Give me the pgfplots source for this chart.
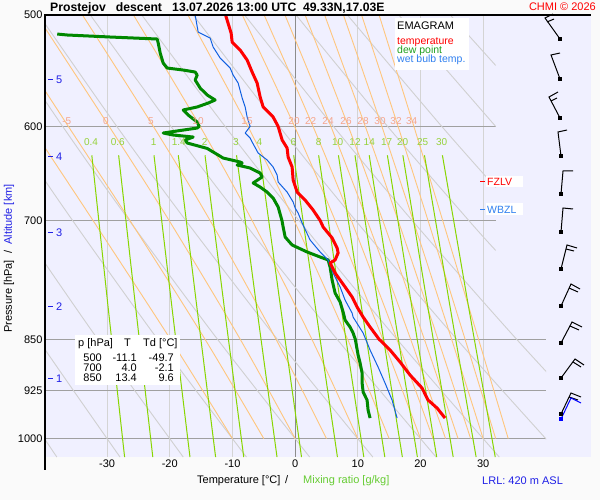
\documentclass[border=0pt]{standalone}
\usepackage{fontspec}
\setmainfont{Liberation Sans}
\usepackage{pgfplots}
\pgfplotsset{compat=1.18}
\definecolor{bgc}{RGB}{250,250,250}
\definecolor{lav}{RGB}{240,240,255}
\definecolor{isoT}{RGB}{212,212,212}
\definecolor{dryc}{RGB}{208,208,208}
\definecolor{isoP}{RGB}{160,160,160}
\definecolor{zeroT}{RGB}{140,140,140}
\definecolor{moistc}{RGB}{255,198,125}
\definecolor{moistlab}{RGB}{245,165,140}
\definecolor{mixc}{RGB}{136,214,0}
\definecolor{mixlab}{RGB}{150,210,60}
\definecolor{tred}{RGB}{255,0,0}
\definecolor{tdgreen}{RGB}{0,136,0}
\definecolor{wbblue}{RGB}{16,96,224}
\definecolor{wbtext}{RGB}{48,128,240}
\definecolor{dewtext}{RGB}{32,160,32}
\definecolor{altblue}{RGB}{32,32,230}
\definecolor{axgreen}{RGB}{102,204,51}
\newcommand{\fsz}[1]{\fontsize{#1}{#1}\selectfont}
\begin{document}
\begin{tikzpicture}[x=1pt,y=1pt]
\useasboundingbox (0,0) rectangle (600,500);
\fill[bgc] (0,0) rectangle (600,500);
\fill[lav] (46,43) rectangle (591,485);
\begin{axis}[
  at={(46pt,43pt)}, anchor=south west,
  width=500pt, height=442pt, scale only axis,
  xmin=-39.75, xmax=40.03,
  ymode=log, ymin=500, ymax=1030.7, y dir=reverse,
  axis line style={draw=none}, tick style={draw=none},
  major tick length=0pt, minor tick length=0pt,
  xtick={-30,-20,-10,0,10,20,30},
  xticklabels={-30,-20,-10,0,10,20,30},
  ytick={500,600,700,850,925,1000},
  yticklabels={500,600,700,850,925,1000},
  tick label style={font=\fsz{11}},
  xticklabel style={yshift=1pt},
  clip=true,
]
% isotherms
\addplot[isoT, line width=1pt] coordinates {(-30,500)(-30,1030.7)};
\addplot[isoT, line width=1pt] coordinates {(-20,500)(-20,1030.7)};
\addplot[isoT, line width=1pt] coordinates {(-10,500)(-10,1030.7)};
\addplot[isoT, line width=1pt] coordinates {(10,500)(10,1030.7)};
\addplot[isoT, line width=1pt] coordinates {(20,500)(20,1030.7)};
\addplot[isoT, line width=1pt] coordinates {(30,500)(30,1030.7)};
\addplot[zeroT, line width=1pt] coordinates {(0,500)(0,1030.7)};
% isobars
\addplot[isoP, line width=1pt] coordinates {(-39.75,600)(32,600)};
\addplot[isoP, line width=1pt] coordinates {(-39.75,700)(32,700)};
\addplot[isoP, line width=1pt] coordinates {(-39.75,850)(40.03,850)};
\addplot[isoP, line width=1pt] coordinates {(-39.75,925)(40.03,925)};
\addplot[isoP, line width=1pt] coordinates {(-39.75,1000)(40.03,1000)};
% dry adiabats
\addplot[dryc, line width=0.9pt, smooth] coordinates {(-81.9,500)(-71.66,600)(-62.59,700)(-50.58,850)(-38.02,1030.7)};
\addplot[dryc, line width=0.9pt, smooth] coordinates {(-73.69,500)(-63.02,600)(-53.56,700)(-41.03,850)(-27.94,1030.7)};
\addplot[dryc, line width=0.9pt, smooth] coordinates {(-65.48,500)(-54.38,600)(-44.53,700)(-31.49,850)(-17.85,1030.7)};
\addplot[dryc, line width=0.9pt, smooth] coordinates {(-57.28,500)(-45.73,600)(-35.50,700)(-21.94,850)(-7.77,1030.7)};
\addplot[dryc, line width=0.9pt, smooth] coordinates {(-49.07,500)(-37.09,600)(-26.46,700)(-12.39,850)(2.32,1030.7)};
\addplot[dryc, line width=0.9pt, smooth] coordinates {(-40.87,500)(-28.45,600)(-17.43,700)(-2.85,850)(12.40,1030.7)};
\addplot[dryc, line width=0.9pt, smooth] coordinates {(-32.67,500)(-19.81,600)(-8.40,700)(6.70,850)(22.49,1030.7)};
\addplot[dryc, line width=0.9pt, smooth] coordinates {(-24.46,500)(-11.17,600)(0.63,700)(16.25,850)(32.57,1030.7)};
\addplot[dryc, line width=0.9pt, smooth] coordinates {(-16.26,500)(-2.52,600)(9.66,700)(25.79,850)(42.65,1030.7)};
\addplot[dryc, line width=0.9pt, smooth] coordinates {(-8.06,500)(6.12,600)(18.69,700)(35.34,850)(52.74,1030.7)};
\addplot[dryc, line width=0.9pt, smooth] coordinates {(0.15,500)(14.76,600)(27.72,700)(32,735)};
\addplot[dryc, line width=0.9pt, smooth] coordinates {(8.35,500)(23.40,600)(32,663)};
\addplot[dryc, line width=0.9pt] coordinates {(16.55,500)(32,600)};
\addplot[dryc, line width=0.9pt] coordinates {(24.76,500)(32,543)};
% moist adiabats
\addplot[moistc, line width=0.9pt, smooth] coordinates {(-10,1000)(-19.89,850)(-32.24,700)(-42.14,600)(-53.63,500)};
\addplot[moistc, line width=0.9pt, smooth] coordinates {(-5,1000)(-14.38,850)(-26.35,700)(-36.18,600)(-47.78,500)};
\addplot[moistc, line width=0.9pt, smooth] coordinates {(0,1000)(-8.76,850)(-20.10,700)(-29.67,600)(-41.25,500)};
\addplot[moistc, line width=0.9pt, smooth] coordinates {(5,1000)(-3.05,850)(-13.56,700)(-22.62,600)(-33.93,500)};
\addplot[moistc, line width=0.9pt, smooth] coordinates {(10,1000)(2.67,850)(-6.86,700)(-15.16,600)(-25.79,500)};
\addplot[moistc, line width=0.9pt, smooth] coordinates {(15,1000)(8.37,850)(-0.15,700)(-7.53,600)(-17.10,500)};
\addplot[moistc, line width=0.9pt, smooth] coordinates {(20,1000)(13.99,850)(6.39,700)(-0.09,600)(-8.42,500)};
\addplot[moistc, line width=0.9pt, smooth] coordinates {(22,1000)(16.22,850)(8.98,700)(2.86,600)(-4.94,500)};
\addplot[moistc, line width=0.9pt, smooth] coordinates {(24,1000)(18.43,850)(11.50,700)(5.71,600)(-1.62,500)};
\addplot[moistc, line width=0.9pt, smooth] coordinates {(26,1000)(20.62,850)(13.99,700)(8.49,600)(1.60,500)};
\addplot[moistc, line width=0.9pt, smooth] coordinates {(28,1000)(22.80,850)(16.44,700)(11.20,600)(4.71,500)};
\addplot[moistc, line width=0.9pt, smooth] coordinates {(30,1000)(24.97,850)(18.84,700)(13.84,600)(7.71,500)};
\addplot[moistc, line width=0.9pt, smooth] coordinates {(32,1000)(27.12,850)(21.21,700)(16.43,600)(10.61,500)};
\addplot[moistc, line width=0.9pt, smooth] coordinates {(34,1000)(29.26,850)(23.55,700)(18.95,600)(13.40,500)};
% mixing ratio lines
\addplot[mixc, line width=1pt] coordinates {(-32.44,629)(-29.86,805)(-27.21,1030.7)};
\addplot[mixc, line width=1pt] coordinates {(-28.16,629)(-25.47,805)(-22.71,1030.7)};
\addplot[mixc, line width=1pt] coordinates {(-22.52,629)(-19.68,805)(-16.78,1030.7)};
\addplot[mixc, line width=1pt] coordinates {(-18.64,629)(-15.70,805)(-12.69,1030.7)};
\addplot[mixc, line width=1pt] coordinates {(-14.38,629)(-11.33,805)(-8.20,1030.7)};
\addplot[mixc, line width=1pt] coordinates {(-9.35,629)(-6.16,805)(-2.89,1030.7)};
\addplot[mixc, line width=1pt] coordinates {(-5.64,629)(-2.35,805)(1.02,1030.7)};
\addplot[mixc, line width=1pt] coordinates {(-0.23,629)(3.21,805)(6.75,1030.7)};
\addplot[mixc, line width=1pt] coordinates {(3.75,629)(7.30,805)(10.96,1030.7)};
\addplot[mixc, line width=1pt] coordinates {(6.91,629)(10.56,805)(14.31,1030.7)};
\addplot[mixc, line width=1pt] coordinates {(9.55,629)(13.27,805)(17.11,1030.7)};
\addplot[mixc, line width=1pt] coordinates {(11.82,629)(15.61,805)(19.51,1030.7)};
\addplot[mixc, line width=1pt] coordinates {(14.72,629)(18.60,805)(22.59,1030.7)};
\addplot[mixc, line width=1pt] coordinates {(17.19,629)(21.14,805)(25.22,1030.7)};
\addplot[mixc, line width=1pt] coordinates {(20.64,629)(24.70,805)(28.88,1030.7)};
\addplot[mixc, line width=1pt] coordinates {(23.50,629)(27.65,805)(31.93,1030.7)};
% dew point
\addplot[tdgreen, line width=3pt, line join=round] coordinates {(-37.96,515.8)(-36.36,516.6)(-29.51,518.3)(-22.01,520.0)(-21.85,523.4)(-21.53,532.1)(-21.05,540.9)(-20.41,545.3)(-17.86,547.1)(-15.95,548.9)(-15.63,551.6)(-15.95,556.1)(-15.15,563.5)(-14.04,569.9)(-12.76,574.6)(-13.88,577.5)(-15.63,581.2)(-17.86,584.1)(-17.07,588.9)(-15.63,595.7)(-15.31,600)(-15.63,601.6)(-17.86,603.6)(-21.05,606.5)(-19.46,608.5)(-16.27,610.5)(-17.54,613.5)(-17.22,616.5)(-14.04,622)(-11.48,631.9)(-8.77,636.0)(-8.45,637.0)(-9.25,639.1)(-7.18,642.3)(-5.58,647.6)(-5.26,651.8)(-6.70,658.2)(-5.58,662.6)(-4.47,668.0)(-3.51,674.6)(-2.71,684.6)(-2.1,700)(-1.91,707.4)(-1.59,719.1)(-0.48,728.5)(1.91,736.9)(3.99,743.0)(5.26,746.6)(5.58,755.3)(5.90,771.5)(6.38,788.1)(7.18,799.8)(7.66,813.0)(7.97,823.7)(8.77,833.2)(9.25,841.4)(9.6,850)(10.05,872.3)(10.37,883.8)(10.69,898.3)(10.69,913.2)(10.85,926.7)(11.48,938.9)(11.64,954.4)(11.96,967)};
% wet bulb
\addplot[wbblue, line width=1pt, line join=round] coordinates {(-15.95,500)(-15.47,514.1)(-13.56,519.2)(-13.08,526.9)(-11.96,536.5)(-10.37,545.3)(-9.89,551.6)(-9.09,558.9)(-8.45,572.7)(-7.97,581.2)(-7.66,590.8)(-7.18,600)(-7.97,606.5)(-7.18,611.5)(-6.86,615.5)(-5.90,626.7)(-4.47,633.9)(-3.51,641.2)(-2.87,649.7)(-2.71,657.2)(-1.28,668)(-0.32,679)(0,685.7)(0.48,691.4)(1.12,702.8)(2.39,722.6)(3.99,736.9)(5.26,746.6)(6.06,762.7)(7.18,780.4)(7.97,797.2)(9.09,814.3)(9.25,819.7)(10.85,841.4)(11.96,865.1)(13.24,889.6)(14.35,913.2)(15.47,938.9)(16.27,967)};
% temperature
\addplot[tred, line width=3pt, line join=round] coordinates {(-11.1,500)(-10.21,515)(-10.05,522.6)(-8.77,529.5)(-7.66,538.2)(-6.86,548.9)(-6.06,558.9)(-5.58,571.8)(-5.10,581.2)(-3.51,590.8)(-2.71,600)(-2.07,613.5)(-1.28,621.6)(-1.12,630.8)(-0.48,641.2)(-0.32,655)(0.32,668)(1.59,676.8)(2.87,688)(4.0,700)(4.47,707.4)(5.90,720.2)(6.70,732.1)(6.86,738.1)(6.38,746.6)(5.58,750.3)(6.38,762.7)(7.97,780.4)(9.09,793.3)(9.89,806.4)(10.85,819.7)(11.96,833.2)(13.4,850)(15.15,865.1)(16.75,882.3)(18.34,901.3)(20.26,920.7)(21.21,938.9)(22.65,951.3)(23.92,967)};
\end{axis}
% frame
\draw[black, line width=1.5pt] (45,485) -- (591,485);
\draw[black, line width=1.3pt] (45,485.7) -- (45,30);
% moist labels
\begin{scope}[every node/.style={moistlab, inner sep=0, font=\fsz{10}}]
\node at (66.7,379) {-5};
\node at (106,379) {0};
\node at (151,379) {5};
\node at (198,379) {10};
\node at (247,379) {15};
\node at (294,379) {20};
\node at (310.7,379) {22};
\node at (328,379) {24};
\node at (346,379) {26};
\node at (363,379) {28};
\node at (380,379) {30};
\node at (396,379) {32};
\node at (411.7,379) {34};
\end{scope}
% mixing labels
\begin{scope}[every node/.style={mixlab, inner sep=0, font=\fsz{10}}]
\node at (91,358) {0.4};
\node at (117.7,358) {0.6};
\node at (153.7,358) {1};
\node at (178.7,358) {1.4};
\node at (204.7,358) {2};
\node at (236,358) {3};
\node at (259.3,358) {4};
\node at (293.3,358) {6};
\node at (318.7,358) {8};
\node at (337.7,358) {10};
\node at (355,358) {12};
\node at (369.3,358) {14};
\node at (386.7,358) {17};
\node at (402.7,358) {20};
\node at (422.7,358) {25};
\node at (441.7,358) {30};
\end{scope}
% altitude
\foreach \y/\k in {80/5,157/4,233/3,307/2,379/1} {
  \draw[altblue, line width=1pt] (48,500-\y) -- (53,500-\y);
  \node[altblue, anchor=west, inner sep=0, font=\fsz{11}] at (56,500-\y) {\k};
}
% title
\node[anchor=base west, inner sep=0, font=\bfseries\fsz{12.2}] at (50,488) {Prostejov\ \ \ descent\ \ \ 13.07.2026 13:00 UTC\ \ 49.33N,17.03E};
\node[anchor=base east, inner sep=0, font=\fsz{11}, text=tred] at (596,489) {CHMI © 2026};
% axis titles
\node[rotate=90, anchor=base west, inner sep=0, font=\fsz{11}] at (12,167) {Pressure [hPa]\ \ /\ \ \textcolor{altblue}{Altitude [km]}};
\node[anchor=base west, inner sep=0, font=\fsz{11}] at (197,16) {Temperature [°C]};
\node[anchor=base west, inner sep=0, font=\fsz{11}] at (285,16) {/};
\node[anchor=base west, inner sep=0, font=\fsz{11}, text=axgreen] at (303,16) {Mixing ratio [g/kg]};
\node[anchor=base west, inner sep=0, font=\fsz{11}, text=altblue] at (482,15) {LRL: 420 m ASL};
% legend
\fill[white] (395,482) rectangle (469,430);
\node[anchor=base west, inner sep=0, font=\fsz{11}] at (397,470.5) {EMAGRAM};
\node[anchor=base west, inner sep=0, font=\fsz{10.5}, text=tred] at (397,455) {temperature};
\node[anchor=base west, inner sep=0, font=\fsz{10.5}, text=dewtext] at (397,446) {dew point};
\node[anchor=base west, inner sep=0, font=\fsz{10.5}, text=wbtext] at (397,437) {wet bulb temp.};
% data table
\fill[white] (75,165) rectangle (180,115);
\node[anchor=base west, inner sep=0, font=\fsz{11}] at (78,153) {p [hPa]};
\node[anchor=base west, inner sep=0, font=\fsz{11}] at (124,153) {T};
\node[anchor=base west, inner sep=0, font=\fsz{11}] at (143,153) {Td [°C]};
\begin{scope}[every node/.style={anchor=base east, inner sep=0, font=\fsz{11}}]
\node at (102,138) {500}; \node at (137,138) {-11.1}; \node at (174,138) {-49.7};
\node at (102,128) {700}; \node at (137,128) {4.0}; \node at (174,128) {-2.1};
\node at (102,118) {850}; \node at (137,118) {13.4}; \node at (174,118) {9.6};
\end{scope}
% FZLV / WBZL
\fill[white] (485.5,324) rectangle (523,313);
\draw[tred, line width=1pt] (480,318) -- (485,318);
\node[anchor=west, inner sep=0, font=\fsz{10.5}, text=tred] at (487,318) {FZLV};
\fill[white] (485.5,296.5) rectangle (523,285);
\draw[wbtext, line width=1pt] (480,290.5) -- (485,290.5);
\node[anchor=west, inner sep=0, font=\fsz{10.5}, text=wbtext] at (487,290.5) {WBZL};
% wind barbs
\begin{axis}[
  at={(0pt,0pt)}, anchor=south west, width=600pt, height=500pt, scale only axis,
  xmin=0, xmax=600, ymin=0, ymax=500, y dir=reverse, hide axis, clip=false,
]
\addplot[black, line width=1pt] coordinates {(560,39)(545,18)(553,14)};
\addplot[black, line width=1pt] coordinates {(547,22)(554,19)};
\addplot[black, line width=1pt] coordinates {(560,79)(551,55)(560,53)};
\addplot[black, line width=1pt] coordinates {(560,118)(549,97)(558,92)};
\addplot[black, line width=1pt] coordinates {(551,101)(557,98)};
\addplot[black, line width=1pt] coordinates {(561,156)(558,132)(567,130)};
\addplot[black, line width=1pt] coordinates {(561,194)(563,171)(573,171)};
\addplot[black, line width=1pt] coordinates {(561,232)(563,208)(573,209)};
\addplot[black, line width=1pt] coordinates {(561,269)(567,245)(577,248)};
\addplot[black, line width=1pt] coordinates {(566,249)(574,251)};
\addplot[black, line width=1pt] coordinates {(561,306)(571,284)(580,289)};
\addplot[black, line width=1pt] coordinates {(569,288)(578,292)};
\addplot[black, line width=1pt] coordinates {(561,343)(572,322)(582,327)};
\addplot[black, line width=1pt] coordinates {(570,326)(579,330)};
\addplot[black, line width=1pt] coordinates {(561,378)(575,359)(584,365)};
\addplot[black, line width=1pt] coordinates {(573,362)(581,367)};
\addplot[black, line width=1pt] coordinates {(561,414)(571,393)(581,397)};
\addplot[black, line width=1pt] coordinates {(569,397)(578,400)};
\addplot[blue, line width=1pt] coordinates {(561,419)(571,398)(581,403)};
\addplot[black, only marks, mark=square*, mark size=1.6pt] coordinates {(560,39)(560,79)(560,118)(561,156)(561,194)(561,232)(561,269)(561,306)(561,343)(561,378)(561,414)};
\addplot[blue, only marks, mark=square*, mark size=1.6pt] coordinates {(561,419)};
\end{axis}
\end{tikzpicture}
\end{document}
